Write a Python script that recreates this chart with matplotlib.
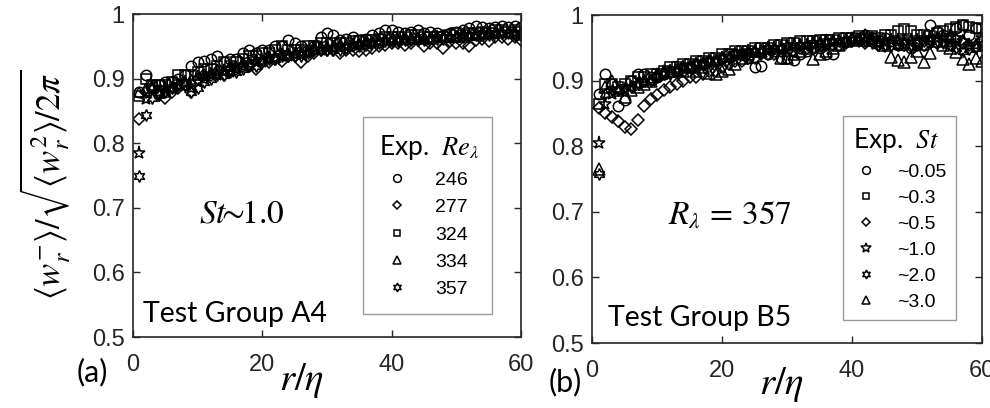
import matplotlib
matplotlib.use("Agg")
import matplotlib.pyplot as plt

plt.rcParams['mathtext.fontset'] = 'stix'
plt.rcParams['font.family'] = ['Liberation Sans', 'DejaVu Sans']

# r/eta sampling positions (shared by every series)
r_eta = list(range(1, 61))

# ---- panel (a): Test Group A4, St ~ 1.0 ----
re_labels = ['246', '277', '324', '334', '357']
a_246 = [0.880, 0.905, 0.890, 0.890, 0.895, 0.895, 0.900, 0.905, 0.920, 0.925,
         0.928, 0.930, 0.935, 0.925, 0.930, 0.930, 0.940, 0.945, 0.940, 0.945,
         0.945, 0.950, 0.950, 0.960, 0.955, 0.950, 0.945, 0.950, 0.965, 0.970,
         0.968, 0.960, 0.962, 0.965, 0.960, 0.962, 0.968, 0.970, 0.975, 0.975,
         0.972, 0.970, 0.972, 0.975, 0.970, 0.972, 0.970, 0.968, 0.970, 0.972,
         0.975, 0.978, 0.982, 0.980, 0.978, 0.980, 0.982, 0.980, 0.982, 0.980]
a_277 = [0.838, 0.880, 0.885, 0.875, 0.870, 0.880, 0.885, 0.890, 0.880, 0.900,
         0.905, 0.905, 0.910, 0.905, 0.915, 0.915, 0.920, 0.920, 0.915, 0.925,
         0.925, 0.930, 0.928, 0.935, 0.935, 0.925, 0.935, 0.940, 0.945, 0.945,
         0.945, 0.940, 0.945, 0.945, 0.942, 0.945, 0.948, 0.950, 0.952, 0.955,
         0.955, 0.952, 0.955, 0.960, 0.950, 0.955, 0.955, 0.948, 0.958, 0.955,
         0.955, 0.950, 0.960, 0.962, 0.958, 0.965, 0.965, 0.962, 0.965, 0.960]
a_324 = [0.873, 0.900, 0.890, 0.890, 0.890, 0.895, 0.905, 0.905, 0.905, 0.910,
         0.915, 0.915, 0.920, 0.925, 0.920, 0.925, 0.930, 0.935, 0.935, 0.940,
         0.940, 0.945, 0.950, 0.945, 0.945, 0.945, 0.950, 0.950, 0.955, 0.955,
         0.955, 0.955, 0.955, 0.958, 0.958, 0.960, 0.960, 0.962, 0.965, 0.965,
         0.965, 0.965, 0.968, 0.968, 0.965, 0.965, 0.965, 0.965, 0.968, 0.970,
         0.968, 0.970, 0.970, 0.972, 0.970, 0.975, 0.975, 0.972, 0.975, 0.972]
a_334 = [0.880, 0.885, 0.885, 0.880, 0.880, 0.885, 0.890, 0.895, 0.900, 0.905,
         0.905, 0.910, 0.915, 0.915, 0.920, 0.920, 0.925, 0.925, 0.930, 0.930,
         0.935, 0.935, 0.940, 0.940, 0.940, 0.940, 0.945, 0.950, 0.950, 0.950,
         0.950, 0.950, 0.952, 0.955, 0.955, 0.958, 0.958, 0.960, 0.960, 0.962,
         0.962, 0.962, 0.962, 0.965, 0.962, 0.962, 0.965, 0.965, 0.965, 0.965,
         0.965, 0.968, 0.968, 0.970, 0.970, 0.970, 0.972, 0.972, 0.970, 0.968]
a_357 = [0.750, 0.843, 0.870, 0.875, 0.880, 0.885, 0.890, 0.890, 0.880, 0.885,
         0.895, 0.900, 0.905, 0.905, 0.910, 0.910, 0.915, 0.920, 0.920, 0.925,
         0.930, 0.930, 0.935, 0.935, 0.935, 0.935, 0.940, 0.945, 0.945, 0.945,
         0.945, 0.945, 0.948, 0.950, 0.950, 0.952, 0.955, 0.955, 0.958, 0.958,
         0.958, 0.960, 0.960, 0.962, 0.960, 0.962, 0.962, 0.962, 0.965, 0.965,
         0.965, 0.965, 0.968, 0.968, 0.968, 0.970, 0.970, 0.970, 0.968, 0.968]
# extra run drawn with pentagrams, not listed in the legend
a_extra = [0.785, 0.868, 0.885, 0.880, 0.885, 0.885, 0.890, 0.895, 0.885, 0.895,
           0.900, 0.905, 0.905, 0.910, 0.910, 0.915, 0.920, 0.920, 0.925, 0.925,
           0.930, 0.930, 0.935, 0.935, 0.938, 0.940, 0.940, 0.945, 0.945, 0.948,
           0.948, 0.950, 0.950, 0.952, 0.952, 0.955, 0.955, 0.958, 0.958, 0.960,
           0.960, 0.960, 0.962, 0.962, 0.962, 0.962, 0.965, 0.965, 0.965, 0.965,
           0.968, 0.968, 0.968, 0.968, 0.970, 0.970, 0.970, 0.970, 0.970, 0.970]

# ---- panel (b): Test Group B5, R_lambda = 357 ----
st_labels = ['~0.05', '~0.3', '~0.5', '~1.0', '~2.0', '~3.0']
b_005 = [0.880, 0.910, 0.895, 0.862, 0.870, 0.900, 0.910, 0.910, 0.905, 0.905,
         0.910, 0.915, 0.915, 0.920, 0.920, 0.925, 0.925, 0.930, 0.930, 0.935,
         0.940, 0.940, 0.940, 0.935, 0.920, 0.922, 0.940, 0.945, 0.935, 0.935,
         0.932, 0.940, 0.945, 0.950, 0.950, 0.940, 0.940, 0.955, 0.960, 0.962,
         0.965, 0.970, 0.965, 0.962, 0.965, 0.960, 0.955, 0.955, 0.950, 0.955,
         0.955, 0.985, 0.975, 0.970, 0.965, 0.980, 0.985, 0.970, 0.980, 0.960]
b_03 = [0.865, 0.895, 0.895, 0.890, 0.895, 0.900, 0.905, 0.905, 0.910, 0.910,
        0.915, 0.920, 0.920, 0.925, 0.925, 0.930, 0.930, 0.935, 0.935, 0.940,
        0.940, 0.945, 0.945, 0.945, 0.950, 0.950, 0.950, 0.955, 0.955, 0.958,
        0.958, 0.960, 0.960, 0.960, 0.962, 0.962, 0.962, 0.965, 0.965, 0.965,
        0.968, 0.965, 0.968, 0.965, 0.970, 0.970, 0.975, 0.978, 0.975, 0.970,
        0.970, 0.968, 0.972, 0.975, 0.978, 0.982, 0.985, 0.982, 0.980, 0.978]
b_05 = [0.858, 0.851, 0.845, 0.838, 0.830, 0.826, 0.840, 0.861, 0.872, 0.878,
        0.885, 0.890, 0.895, 0.900, 0.905, 0.905, 0.910, 0.915, 0.915, 0.920,
        0.925, 0.930, 0.930, 0.935, 0.935, 0.940, 0.940, 0.940, 0.945, 0.945,
        0.945, 0.950, 0.950, 0.950, 0.952, 0.955, 0.955, 0.955, 0.958, 0.960,
        0.960, 0.958, 0.960, 0.955, 0.952, 0.955, 0.958, 0.955, 0.952, 0.955,
        0.955, 0.958, 0.958, 0.960, 0.960, 0.962, 0.958, 0.955, 0.952, 0.960]
b_10 = [0.805, 0.865, 0.880, 0.885, 0.885, 0.890, 0.895, 0.900, 0.900, 0.905,
        0.910, 0.915, 0.915, 0.920, 0.920, 0.925, 0.925, 0.930, 0.930, 0.935,
        0.935, 0.940, 0.940, 0.945, 0.945, 0.945, 0.950, 0.950, 0.950, 0.952,
        0.955, 0.955, 0.955, 0.958, 0.958, 0.960, 0.960, 0.960, 0.962, 0.962,
        0.962, 0.962, 0.960, 0.958, 0.960, 0.962, 0.962, 0.960, 0.962, 0.962,
        0.965, 0.965, 0.965, 0.968, 0.968, 0.965, 0.960, 0.955, 0.955, 0.965]
b_20 = [0.757, 0.880, 0.885, 0.885, 0.890, 0.890, 0.895, 0.900, 0.900, 0.905,
        0.910, 0.910, 0.915, 0.920, 0.920, 0.925, 0.925, 0.930, 0.930, 0.935,
        0.935, 0.940, 0.940, 0.940, 0.945, 0.945, 0.950, 0.950, 0.950, 0.952,
        0.952, 0.955, 0.955, 0.958, 0.958, 0.958, 0.960, 0.960, 0.960, 0.962,
        0.962, 0.960, 0.958, 0.955, 0.955, 0.952, 0.955, 0.958, 0.955, 0.958,
        0.960, 0.962, 0.960, 0.958, 0.955, 0.950, 0.945, 0.948, 0.950, 0.955]
b_30 = [0.765, 0.890, 0.900, 0.885, 0.875, 0.885, 0.890, 0.895, 0.900, 0.910,
        0.915, 0.915, 0.920, 0.915, 0.920, 0.915, 0.920, 0.912, 0.910, 0.915,
        0.918, 0.925, 0.935, 0.940, 0.945, 0.945, 0.950, 0.950, 0.934, 0.935,
        0.940, 0.945, 0.950, 0.933, 0.940, 0.945, 0.950, 0.955, 0.960, 0.965,
        0.962, 0.970, 0.965, 0.960, 0.955, 0.936, 0.931, 0.928, 0.936, 0.945,
        0.928, 0.942, 0.960, 0.955, 0.950, 0.944, 0.933, 0.925, 0.935, 0.930]

marker_a = ['o', 'D', 's', '^', (6, 1, 0)]
size_a = [7.5, 6, 6.5, 7.5, 8.5]
marker_b = ['o', 's', 'D', '*', (6, 1, 0), '^']
size_b = [7.5, 6.5, 6, 9.5, 8.5, 8.5]

fig = plt.figure(figsize=(9.9, 4.08), dpi=100)
ax1 = fig.add_axes([133 / 990, 71 / 408, 388 / 990, 323 / 408])
ax2 = fig.add_axes([592 / 990, 65 / 408, 390 / 990, 328 / 408])

mkw = dict(linestyle='none', color='black', markerfacecolor='none', markeredgewidth=1.1)

series_a = [a_246, a_277, a_324, a_334, a_357]
for y, m, s, lab in zip(series_a, marker_a, size_a, re_labels):
    ax1.plot(r_eta, y, marker=m, markersize=s, label=lab, **mkw)
ax1.plot(r_eta, a_extra, marker='*', markersize=9.5, label='_nolegend_', **mkw)

series_b = [b_005, b_03, b_05, b_10, b_20, b_30]
for y, m, s, lab in zip(series_b, marker_b, size_b, st_labels):
    ax2.plot(r_eta, y, marker=m, markersize=s, label=lab, **mkw)

edge = '#262626'
for ax in (ax1, ax2):
    ax.set_xlim(0, 60)
    ax.set_ylim(0.5, 1.0)
    ax.set_xticks([0, 20, 40, 60])
    ax.set_yticks([0.5, 0.6, 0.7, 0.8, 0.9, 1.0])
    ax.set_yticklabels(['0.5', '0.6', '0.7', '0.8', '0.9', '1'])
    ax.tick_params(direction='in', length=5, width=1.0, top=True, right=True,
                   labelsize=17, colors=edge)
    ax.tick_params(axis='x', pad=12)
    ax.tick_params(axis='y', pad=6)
    for sp in ax.spines.values():
        sp.set_color(edge)
        sp.set_linewidth(1.2)

lat = ['Lato', 'DejaVu Sans']

# legends
leg1 = ax1.legend(title='Exp.  $Re_{\\lambda}$', loc='upper left',
                  bbox_to_anchor=(0.593, 0.681, 0.332, 0.0), mode='expand',
                  borderaxespad=0.0,
                  frameon=True, fancybox=False, edgecolor='#808080',
                  prop={'family': 'Liberation Sans', 'size': 14},
                  markerscale=0.75, borderpad=0.8, labelspacing=0.5,
                  handlelength=1.9, handletextpad=1.0, alignment='left')
leg1.get_title().set_fontsize(19)
leg1.get_title().set_family(lat)
leg1.get_frame().set_linewidth(1.0)

leg2 = ax2.legend(title='Exp.  $St$', loc='upper left',
                  bbox_to_anchor=(0.644, 0.692, 0.289, 0.0), mode='expand',
                  borderaxespad=0.0,
                  frameon=True, fancybox=False, edgecolor='#808080',
                  prop={'family': 'Liberation Sans', 'size': 14},
                  markerscale=0.75, borderpad=0.5, labelspacing=0.43,
                  handlelength=1.35, handletextpad=0.9, alignment='left')
leg2.get_title().set_fontsize(19)
leg2.get_title().set_family(lat)
leg2.get_frame().set_linewidth(1.0)

# annotations inside the axes
ax1.text(0.28, 0.38, '$St\\!\\!\\sim\\!\\!1.0$', transform=ax1.transAxes, fontsize=24,
         ha='center', va='center')
ax2.text(0.355, 0.39, '$R_{\\lambda}\\,=\\,357$', transform=ax2.transAxes, fontsize=24,
         ha='center', va='center')
ax1.text(0.026, 0.07, 'Test Group A4', transform=ax1.transAxes, fontsize=20.5,
         family=lat, ha='left', va='center')
ax2.text(0.041, 0.075, 'Test Group B5', transform=ax2.transAxes, fontsize=20.5,
         family=lat, ha='left', va='center')

# axis labels and panel tags
fig.text(302 / 990, 1 - 381 / 408, '$r/\\eta$', fontsize=28, ha='center', va='center')
fig.text(782 / 990, 1 - 385 / 408, '$r/\\eta$', fontsize=28, ha='center', va='center')
fig.text(45 / 990, 1 - 185 / 408,
         '$\\langle w_r^{-}\\rangle/\\sqrt{\\langle w_r^{2}\\rangle/2\\pi}$',
         fontsize=25, rotation=90, ha='center', va='center')
fig.text(92 / 990, 1 - 372 / 408, '(a)', fontsize=22, family=lat, ha='center', va='center')
fig.text(565 / 990, 1 - 382 / 408, '(b)', fontsize=22, family=lat, ha='center', va='center')

fig.savefig('out.png', dpi=100, facecolor='white')
